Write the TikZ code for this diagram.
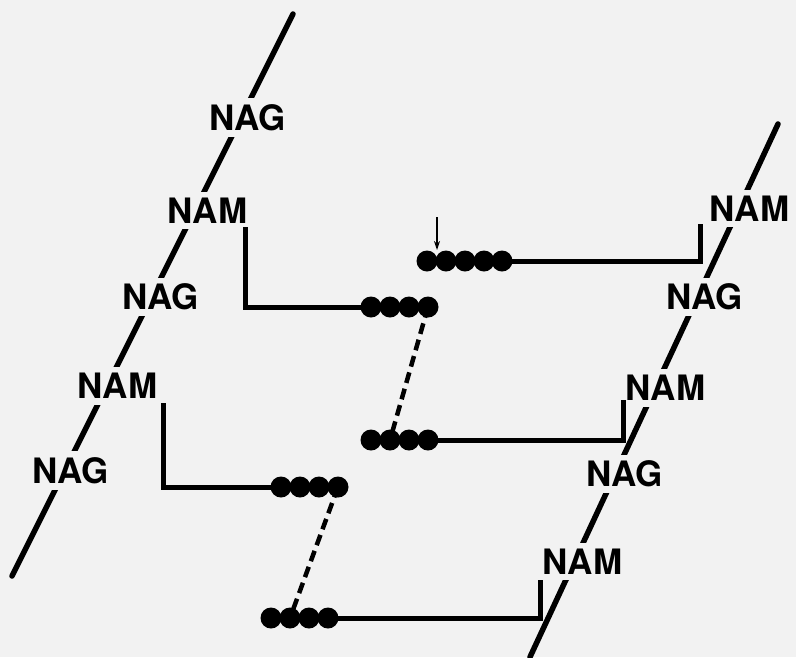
\documentclass[tikz,border=0pt]{standalone}
\usepackage{fontspec}
\setmainfont{TeX Gyre Heros}
\usetikzlibrary{arrows.meta}
\definecolor{bg}{RGB}{242,242,242}
\begin{document}
\begin{tikzpicture}[x=1pt,y=-1pt,
  strand/.style={line width=5.5pt, line cap=round},
  lab/.style={font=\fontsize{35}{35}\selectfont\bfseries, fill=bg, inner xsep=0pt, inner ysep=6pt, anchor=west},
  chain/.style={line width=5pt},
  dashline/.style={line width=4.5pt, dash pattern=on 11pt off 6pt},
  dot/.style={circle, fill=black, minimum size=21pt, inner sep=0pt},
  marker/.style={line width=1.3pt, -{Stealth[length=9pt,width=6pt]}}
]
\fill[bg] (0,0) rectangle (796,657);
\useasboundingbox (0,0) rectangle (796,657);

% backbone strands
\coordinate (LT) at (293,14);
\coordinate (LB) at (12,576);
\coordinate (RT) at (778,124);
\coordinate (RB) at (530,657);
\draw[strand] (LT) -- (LB);
\draw[strand] (RT) -- (RB);

% left strand labels
\node[lab] (L1) at (209.4,117.5) {NAG};
\node[lab] (L2) at (167.4,210.5) {NAM};
\node[lab] (L3) at (122.4,297) {NAG};
\node[lab] (L4) at (77.4,386) {NAM};
\node[lab] (L5) at (32.4,470.5) {NAG};

% right strand labels
\node[lab] (R1) at (709.4,208.5) {NAM};
\node[lab] (R2) at (666.4,297) {NAG};
\node[lab] (R3) at (625.4,388) {NAM};
\node[lab] (R4) at (586.4,474) {NAG};
\node[lab] (R5) at (542.4,561.5) {NAM};

% peptide dots
\foreach \i/\x in {1/427,2/446,3/465,4/484,5/502} \node[dot] (a\i) at (\x,261) {};
\foreach \i/\x in {1/371,2/390,3/409,4/428} \node[dot] (b\i) at (\x,307) {};
\foreach \i/\x in {1/371,2/390,3/409,4/428} \node[dot] (c\i) at (\x,440) {};
\foreach \i/\x in {1/281,2/300,3/319,4/338} \node[dot] (d\i) at (\x,487) {};
\foreach \i/\x in {1/271,2/290,3/309,4/328} \node[dot] (e\i) at (\x,618) {};

% chain A (top, with arrow)
\coordinate (aEnd) at (700,224);
\draw[chain] (a5.center) -| (aEnd);
\coordinate (arrTop) at (437,217);
\coordinate (arrTip) at (437,250);
\draw[marker] (arrTop) -- (arrTip);

% chain B from left NAM
\coordinate (bTop) at (245,227);
\draw[chain] (bTop) |- (b1.center);
\draw[dashline] (b4.center) -- (c2.center);

% chain C to right NAM
\coordinate (cEnd) at (623,400);
\draw[chain] (c4.center) -| (cEnd);

% chain D from left NAM
\coordinate (dTop) at (163,403);
\draw[chain] (dTop) |- (d1.center);
\draw[dashline] (d4.center) -- (e2.center);

% chain E to right NAM
\coordinate (eEnd) at (540,580);
\draw[chain] (e4.center) -| (eEnd);
\end{tikzpicture}
\end{document}
